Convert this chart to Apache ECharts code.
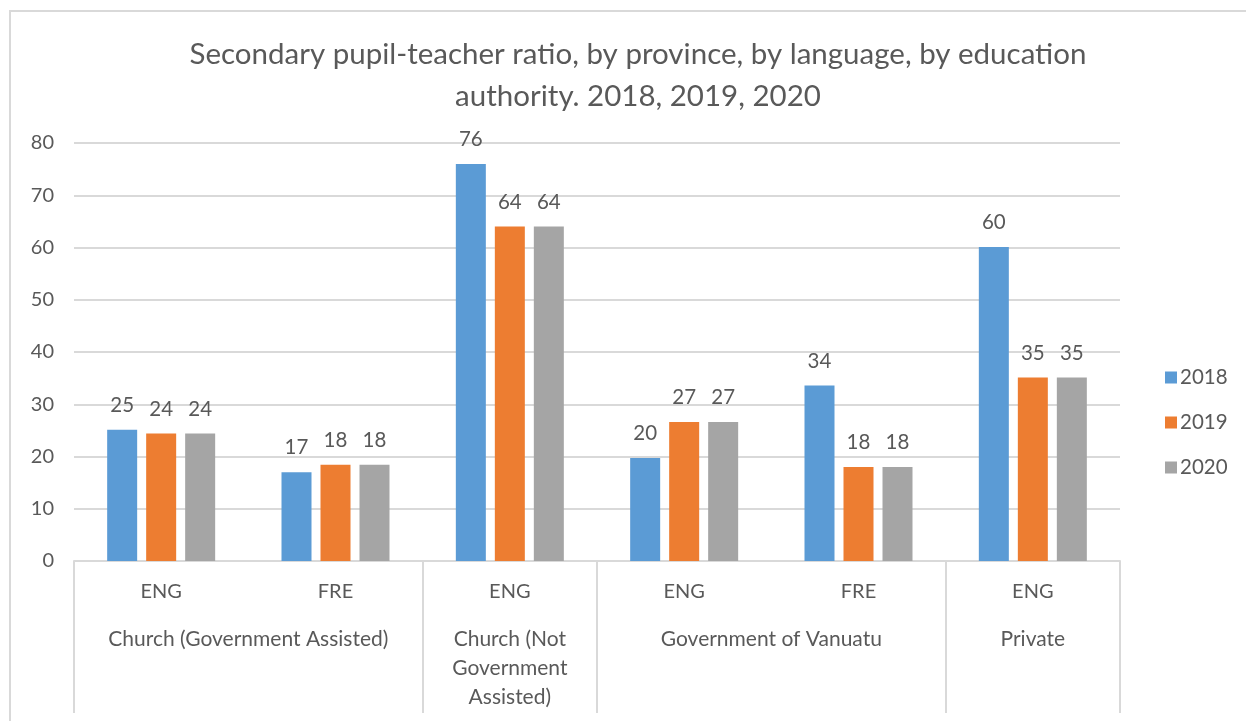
<!DOCTYPE html>
<html>
<head>
<meta charset="utf-8">
<script src="https://cdn.jsdelivr.net/npm/echarts@6/dist/echarts.min.js"></script>
<style>html,body{margin:0;padding:0;background:#fff}#c{width:1246px;height:721px}</style>
</head>
<body>
<div id="c"></div>
<script>
// ---- data ----
const languages = ['ENG', 'FRE', 'ENG', 'ENG', 'FRE', 'ENG'];
const groupNames = ['Church (Government Assisted)', 'Church (Not\nGovernment\nAssisted)', 'Government of Vanuatu', 'Private'];
const groupSpans = [2, 1, 2, 1];
const seriesNames = ['2018', '2019', '2020'];
const values2018 = [25.1, 17.0, 76.0, 19.7, 33.6, 60.1];
const values2019 = [24.4, 18.4, 64.0, 26.6, 18.0, 35.1];
const values2020 = [24.4, 18.4, 64.0, 26.6, 18.0, 35.1];
const yTicks = { min: 0, max: 80, interval: 10 };

// ---- build group axis on half-column slots ----
const nSlots = languages.length * 2 + 1;
const groupSlots = new Array(nSlots).fill('');
const boundarySlots = new Set([0]);
let pos = 0;
groupNames.forEach((g, i) => {
  const span = groupSpans[i] * 2;
  groupSlots[pos + span / 2] = g;
  pos += span;
  boundarySlots.add(pos);
});

const txt = '#595959';
const font = 'Lato';
const colors = ['#5b9bd5', '#ed7d31', '#a5a5a5'];
const vals = [values2018, values2019, values2020];

const chart = echarts.init(document.getElementById('c'), null, { renderer: 'canvas' });
chart.setOption({
  backgroundColor: '#fff',
  animation: false,
  textStyle: { fontFamily: font },
  title: {
    text: 'Secondary pupil-teacher ratio, by province, by language, by education\nauthority. 2018, 2019, 2020',
    left: 633, top: 28, textAlign: 'center',
    textStyle: { fontFamily: font, fontSize: 29.5, fontWeight: 'normal', color: txt, lineHeight: 42 }
  },
  graphic: [{
    type: 'rect', silent: true, z: -1,
    shape: { x: 10, y: 11, width: 1400, height: 900 },
    style: { fill: 'none', stroke: '#d9d9d9', lineWidth: 2 }
  }],
  legend: {
    orient: 'vertical', left: 1160, top: 362, itemGap: 24,
    itemWidth: 12, itemHeight: 12, icon: 'rect',
    textStyle: { fontFamily: font, fontSize: 20.5, color: txt, padding: [0, 0, 0, -2] },
    data: seriesNames
  },
  grid: { left: 74, right: 126, top: 143, bottom: 160, containLabel: false },
  xAxis: [{
    type: 'category', data: languages, position: 'bottom',
    axisLine: { show: true, lineStyle: { color: '#d9d9d9', width: 2 } },
    axisTick: { show: false },
    axisLabel: { interval: 0, margin: 21, color: txt, fontFamily: font, fontSize: 20 }
  }, {
    type: 'category', data: groupSlots, boundaryGap: false, position: 'bottom',
    axisLine: { show: false },
    axisTick: { show: true, length: 152, interval: (i) => boundarySlots.has(i), lineStyle: { color: '#d9d9d9', width: 2 } },
    axisLabel: { interval: 0, margin: 64, color: txt, fontFamily: font, fontSize: 21, lineHeight: 29 }
  }],
  yAxis: {
    type: 'value', min: yTicks.min, max: yTicks.max, interval: yTicks.interval,
    axisLine: { show: false }, axisTick: { show: false },
    axisLabel: { margin: 20, color: txt, fontFamily: font, fontSize: 20 },
    splitLine: { lineStyle: { color: '#d9d9d9', width: 2 } }
  },
  series: seriesNames.map((n, i) => ({
    name: n, type: 'bar', xAxisIndex: 0, data: vals[i],
    barWidth: 30, barGap: '30%',
    itemStyle: { color: colors[i] },
    label: {
      show: true, position: 'top', distance: 14, color: txt, fontFamily: font, fontSize: 20.5,
      formatter: (p) => Math.round(p.value)
    }
  }))
});
</script>
</body>
</html>
